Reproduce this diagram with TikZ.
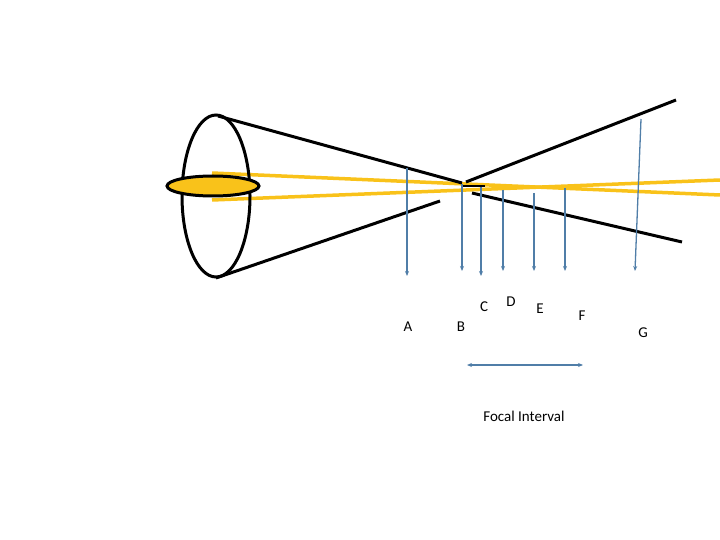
\documentclass[tikz,border=0pt]{standalone}
\usetikzlibrary{arrows.meta}
\usepackage{fontspec}
\setmainfont{Carlito}
\begin{document}
\begin{tikzpicture}[x=1pt,y=-1pt,
  blk/.style={line width=3pt,black},
  ray/.style={line width=3.5pt,color={rgb,255:red,249;green,194;blue,26}},
  pin/.style={line width=1.3pt,color={rgb,255:red,80;green,126;blue,168},-{Stealth[length=5pt,width=4pt]}},
  lab/.style={font=\fontsize{15}{18}\selectfont,inner sep=0pt}]
\useasboundingbox (0,0) rectangle (720,540);
\draw[ray] (212,173) -- (720,195);
\draw[ray] (212,200) -- (720,180);
\draw[blk] (216,196) ellipse [x radius=34, y radius=81];
\draw[blk,fill={rgb,255:red,249;green,194;blue,26}] (213,186) ellipse [x radius=46, y radius=10];
\coordinate (t) at (218,116); \coordinate (b) at (216,278);
\coordinate (f1) at (462,183); \coordinate (f2) at (466,182);
\draw[blk] (t) -- (f1);
\draw[blk] (b) -- (440,201);
\draw[blk] (f2) -- (676,100);
\draw[blk] (472,193) -- (682,242);
\draw[line width=1.5pt] (462,186) -- (485,186);
\foreach \n/\x/\a/\b in {a/407/168/276,b/462/184/271,c/481/187/276,d/503/190/271,e/534/193/271,f/565/188/271}
  \draw[pin] (\x,\a) coordinate (s\n) -- (\x,\b) coordinate (e\n);
\draw[pin] (641,119) coordinate (sg) -- (635,271) coordinate (eg);
\node[lab] (A) at (408,327) {A};
\node[lab] (B) at (461,327) {B};
\node[lab] (C) at (484,307) {C};
\node[lab] (D) at (511,302) {D};
\node[lab] (E) at (540,309) {E};
\node[lab] (F) at (582,316) {F};
\node[lab] (G) at (643,333) {G};
\coordinate (il) at (467,365); \coordinate (ir) at (583,365);
\draw[line width=1.3pt,color={rgb,255:red,80;green,126;blue,168},{Stealth[length=5pt,width=4pt]}-{Stealth[length=5pt,width=4pt]}] (il) -- (ir);
\node[lab] (fi) at (524,416) {Focal Interval};
\end{tikzpicture}
\end{document}
